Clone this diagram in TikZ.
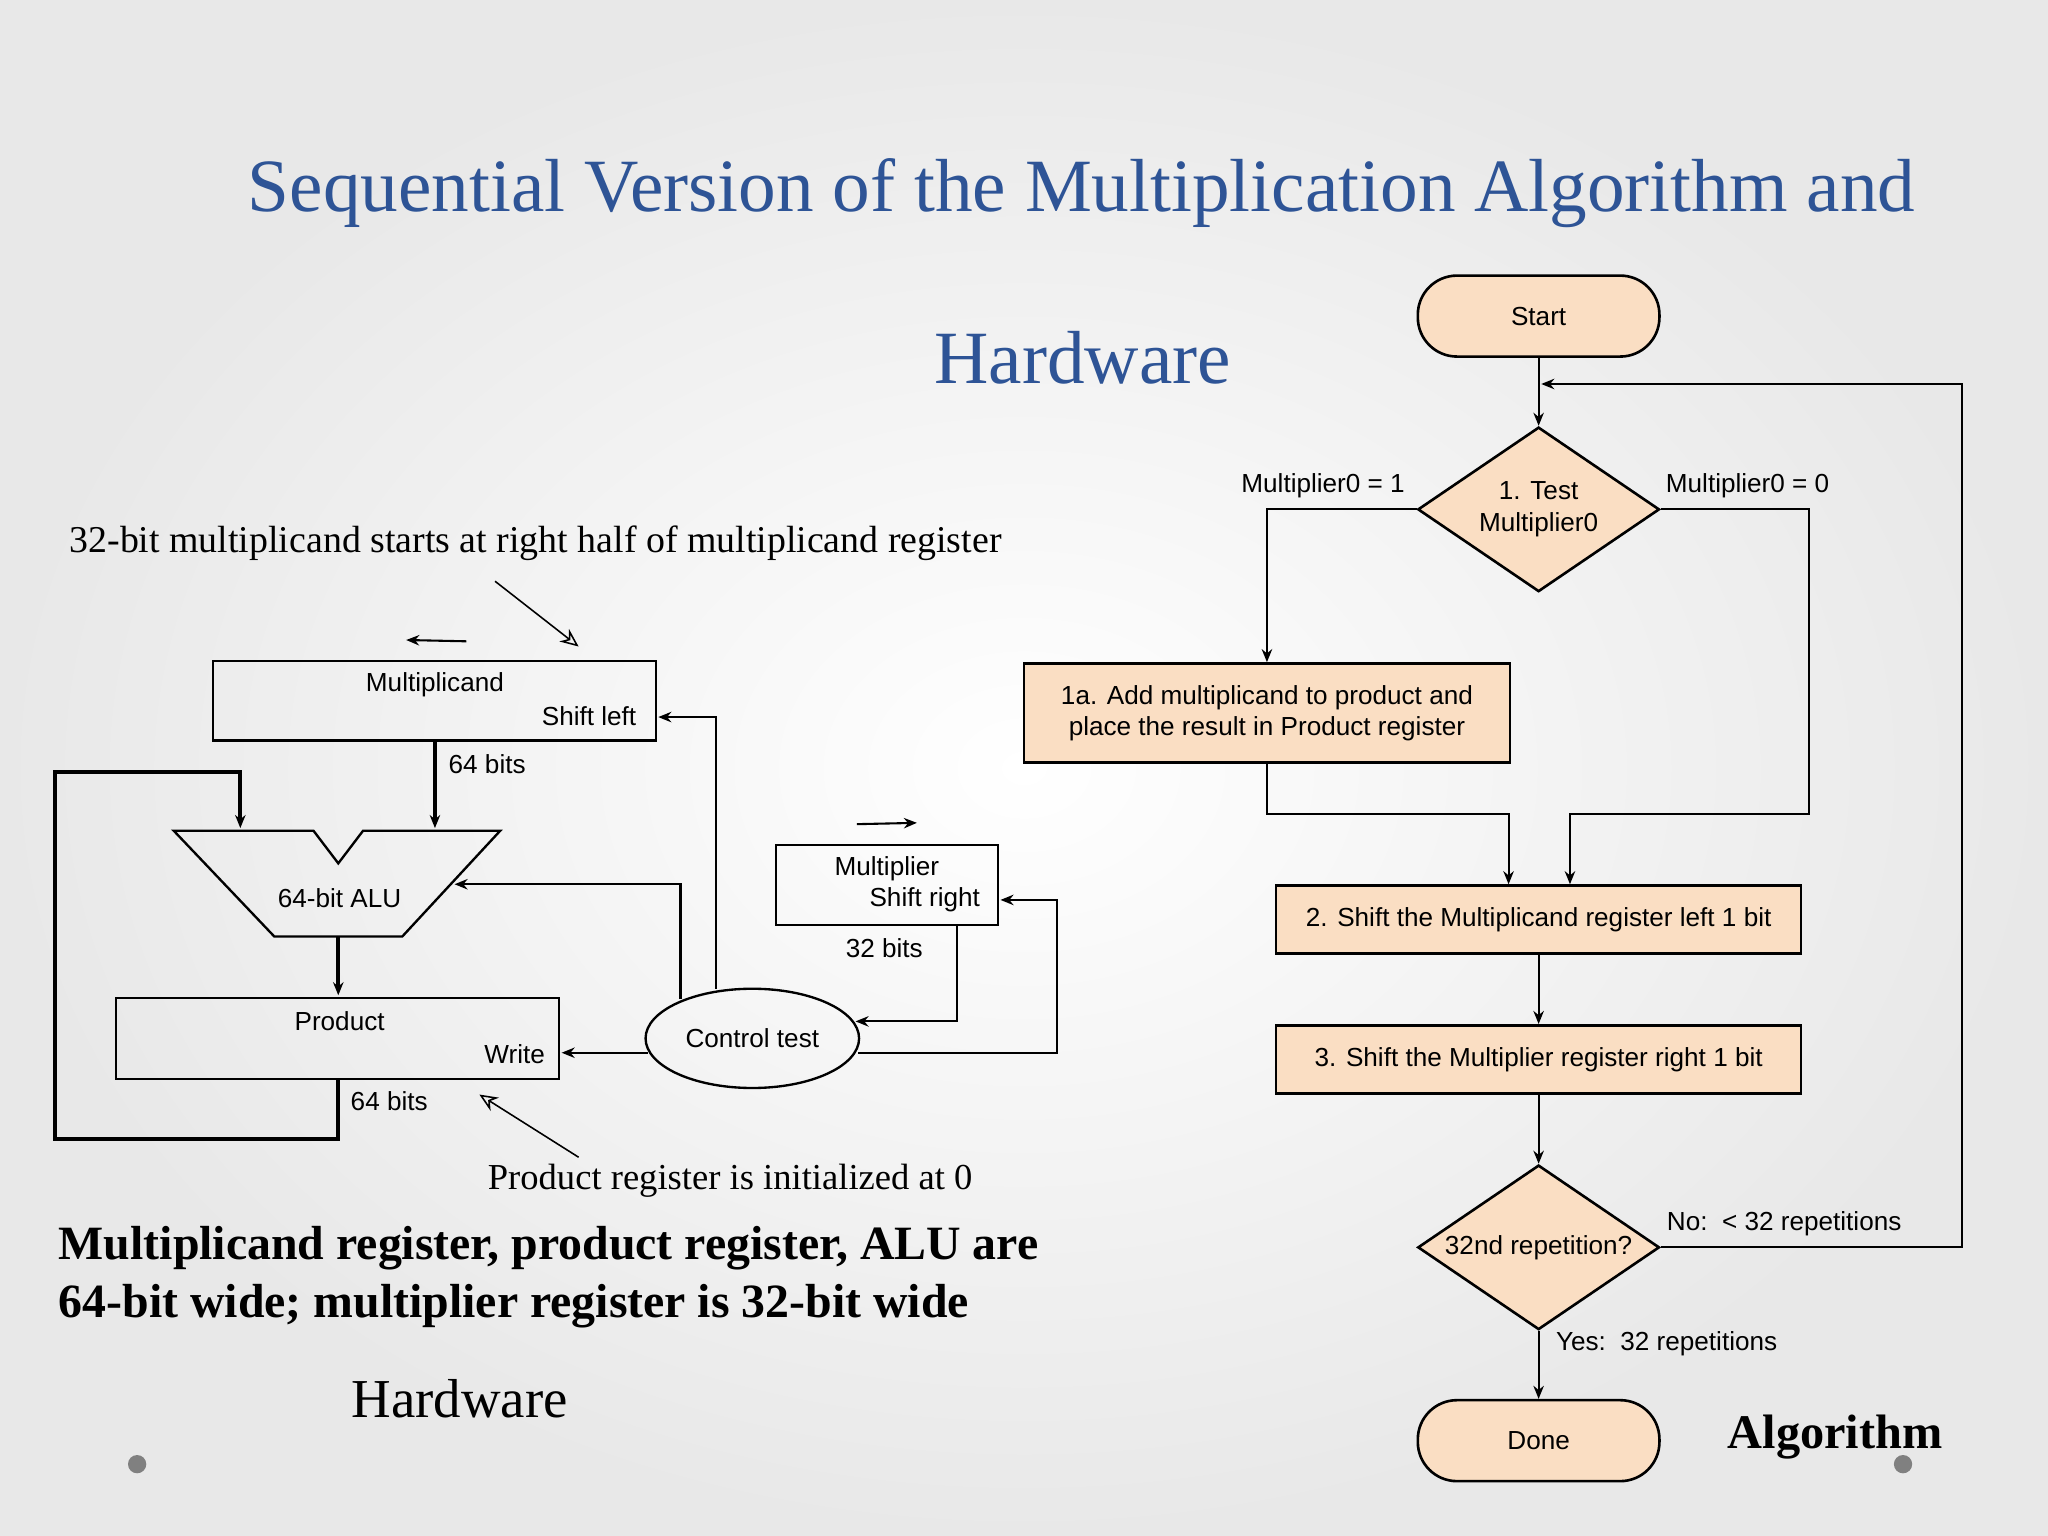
\documentclass[tikz,border=0pt]{standalone}
\usepackage{fontspec}
\setmainfont{Liberation Serif}
\newfontfamily\arialf{Liberation Sans}
\usetikzlibrary{shapes.geometric,arrows.meta}
\definecolor{peach}{RGB}{250,222,195}
\definecolor{titleblue}{RGB}{46,84,150}
\begin{document}
\begin{tikzpicture}[x=0.5pt,y=-0.5pt,
  lab/.style={font=\arialf\fontsize{10}{12}\selectfont},
  fl/.style={draw,line width=1pt,fill=peach,font=\arialf\fontsize{10}{12}\selectfont,align=center},
  term/.style={fl,rounded corners=15pt,minimum width=92.5pt,minimum height=31pt},
  box/.style={draw,line width=0.9pt,minimum height=0pt},
  dia/.style={fl,diamond,aspect=1.47,minimum width=92.5pt,minimum height=63pt,inner sep=0pt},
  ar/.style={-{Stealth[length=5pt,width=4pt]},line width=0.8pt},
  thk/.style={-{Stealth[length=5pt,width=4pt]},line width=1.6pt}]
\shade[inner color=white,outer color=black!9] (0,0) rectangle (1568,1176);
\useasboundingbox (0,0) rectangle (1568,1176);
% title
\node[text=titleblue,font=\fontsize{28.8}{32}\selectfont] (t1) at (828,148) {Sequential Version of the Multiplication Algorithm and};
\node[text=titleblue,font=\fontsize{28.8}{32}\selectfont] (t2) at (829,274) {Hardware};
% flowchart
\node[term] (start) at (1178,242) {Start};
\node[dia] (test) at (1178,390) {1. Test\\Multiplier0};
\node[fl,minimum width=186pt,minimum height=38pt] (a1) at (970,546) {1a. Add multiplicand to product and\\place the result in Product register};
\node[fl,minimum width=201pt,minimum height=26pt] (s2) at (1178,704) {2. Shift the Multiplicand register left 1 bit};
\node[fl,minimum width=201pt,minimum height=26pt] (s3) at (1178,811) {3. Shift the Multiplier register right 1 bit};
\node[dia] (rep) at (1178,955) {32nd repetition?};
\node[term] (done) at (1178,1103) {Done};
\coordinate (loop) at (1180,294);
\draw[ar] (start) -- (test);
\draw[ar] (test.west) -- (970,390) -- (a1.north);
\draw[ar] (test.east) -- (1385,390) -- (1385,623) -- (1202,623) -- (1202,677);
\draw[ar] (a1.south) -- (970,623) -- (1155,623) -- (1155,677);
\draw[ar] (s2) -- (s3);
\draw[ar] (s3) -- (rep);
\draw[ar] (rep) -- (done);
\draw[ar] (rep.east) -- (1502,955) -- (1502,294) -- (loop);
\node[lab] (l1) at (1013,372) {Multiplier0 = 1};
\node[lab] (l2) at (1338,372) {Multiplier0 = 0};
\node[lab] (l3) at (1366,937) {No:\ \ < 32 repetitions};
\node[lab] (l4) at (1276,1029) {Yes:\ \ 32 repetitions};
\node[font=\bfseries\fontsize{18.5}{21}\selectfont] (alg) at (1405,1100) {Algorithm};
% hardware
\node[box,minimum width=169.5pt,minimum height=30.5pt] (mc) at (332.5,536.5) {};
\node[lab] at (333,524) {Multiplicand};
\node[lab] at (451,548) {Shift left};
\draw[line width=0.9pt] (133,636) -- (240,636) -- (259,661) -- (278,636) -- (383,636) -- (308,717) -- (210,717) -- cycle;
\node[lab] (alu) at (260,688) {64-bit ALU};
\node[box,minimum width=169.5pt,minimum height=31pt] (pr) at (258.5,795) {};
\node[lab] at (260,782) {Product};
\node[lab] at (394,807) {Write};
\node[box,minimum width=85pt,minimum height=30.5pt] (mp) at (679,677.5) {};
\node[lab] at (679,665) {Multiplier};
\node[lab] at (708,689) {Shift right};
\node[draw,line width=0.9pt,ellipse,minimum width=81pt,minimum height=38pt,lab] (ct) at (576,795) {Control test};
\draw[thk] (333,567) -- (333,634);
\node[lab] at (373,585) {64 bits};
\draw[thk] (259,717) -- (259,762);
\draw[thk] (259,826) -- (259,872) -- (42,872) -- (42,591) -- (184,591) -- (184,634);
\node[lab] at (298,843) {64 bits};
\draw[ar] (496,806) -- (430,806);
\draw[ar] (548,757) -- (548,549) -- (504,549);
\draw[ar] (521,765) -- (521,677) -- (348,677);
\node[lab] at (677,726) {32 bits};
\draw[ar] (733,708) -- (733,782) -- (655,782);
\draw[ar] (657,806) -- (809,806) -- (809,689) -- (766,689);
\draw[ar] (357,491) -- (311,490);
\draw[ar] (656,631) -- (702,630);
\draw[-{Stealth[length=7pt,width=6pt,open]},line width=0.6pt] (379,445) -- (443,495);
\draw[-{Stealth[length=7pt,width=6pt,open]},line width=0.6pt] (443,886) -- (367,838);
\node[font=\fontsize{14.5}{17}\selectfont] (n1) at (410,416) {32-bit multiplicand starts at right half of multiplicand register};
\node[font=\fontsize{14}{17}\selectfont] (n2) at (559,904) {Product register is initialized at 0};
\node[font=\bfseries\fontsize{18.3}{22}\selectfont,anchor=west,align=left] (n3) at (38,978) {Multiplicand register, product register, ALU are\\64-bit wide; multiplier register is 32-bit wide};
\node[font=\fontsize{21}{24}\selectfont] (hw) at (352,1071) {Hardware};
\fill[gray] (105,1121) circle (7);
\fill[gray] (1457,1121) circle (7);
\end{tikzpicture}
\end{document}
